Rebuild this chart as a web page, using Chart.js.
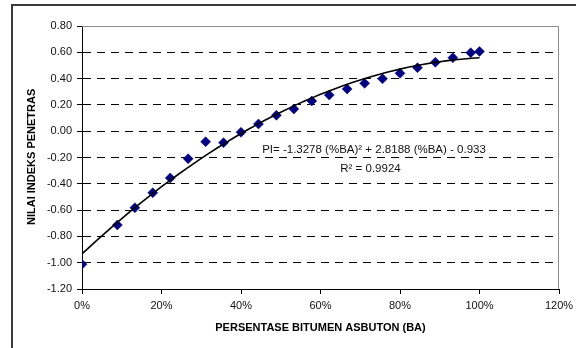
<!DOCTYPE html>
<html>
<head>
<meta charset="utf-8">
<title>Indeks Penetrasi vs Persentase Bitumen Asbuton</title>
<script src="https://cdn.jsdelivr.net/npm/chart.js@4"></script>
<style>
  html, body { margin: 0; padding: 0; background: #fff; }
  #wrap { width: 576px; height: 348px; }
</style>
</head>
<body>
<div id="wrap"><canvas id="c" width="576" height="348"></canvas></div>
<script>
// Bitumen asbuton content (fraction of binder) and measured penetration index
const baFraction = [0.000, 0.089, 0.133, 0.178, 0.222, 0.267, 0.311, 0.356, 0.400, 0.444, 0.489, 0.533,
                    0.578, 0.622, 0.667, 0.711, 0.756, 0.800, 0.844, 0.889, 0.933, 0.978, 1.000];
const piValues   = [-1.012, -0.713, -0.582, -0.468, -0.356, -0.209, -0.080, -0.087, -0.008, 0.055, 0.121, 0.169,
                    0.230, 0.275, 0.321, 0.364, 0.399, 0.440, 0.483, 0.524, 0.559, 0.597, 0.607];

// Second-order polynomial fit: PI = a*BA^2 + b*BA + c
const fitA = -1.3278, fitB = 2.8188, fitC = -0.933;
const fitR2 = 0.9924;
const fitSteps = [];
for (let i = 0; i <= 50; i++) fitSteps.push(i / 50);

// Axis ticks
const xTickValues = [0, 0.2, 0.4, 0.6, 0.8, 1.0, 1.2];
const xTickLabels = ['0%', '20%', '40%', '60%', '80%', '100%', '120%'];
const yTickValues = [-1.2, -1.0, -0.8, -0.6, -0.4, -0.2, 0.0, 0.2, 0.4, 0.6, 0.8];
const yTickLabels = ['-1.20', '-1.00', '-0.80', '-0.60', '-0.40', '-0.20', '0.00', '0.20', '0.40', '0.60', '0.80'];

const xTitle = 'PERSENTASE BITUMEN ASBUTON (BA)';
const yTitle = 'NILAI INDEKS PENETRASI';
const eqLine1 = 'PI= -1.3278 (%BA)\u00B2 + 2.8188 (%BA) - 0.933';
const eqLine2 = 'R\u00B2 = ' + fitR2;

const scatterPts = baFraction.map((x, i) => ({ x, y: piValues[i] }));
const fitPts = fitSteps.map(x => ({ x, y: fitA * x * x + fitB * x + fitC }));

const near = (a, b) => Math.abs(a - b) < 1e-6;

const decor = {
  id: 'decor',
  beforeDraw(chart) {
    const ctx = chart.ctx;
    ctx.save();
    ctx.fillStyle = '#ffffff';
    ctx.fillRect(0, 0, chart.width, chart.height);
    // outer frame (top and left edges)
    ctx.strokeStyle = '#3a3a3a';
    ctx.lineWidth = 2;
    ctx.beginPath();
    ctx.moveTo(12, chart.height);
    ctx.lineTo(12, 5);
    ctx.lineTo(chart.width, 5);
    ctx.stroke();
    ctx.restore();
  },
  beforeDatasetsDraw(chart) {
    const { ctx, chartArea: a } = chart;
    ctx.save();
    ctx.strokeStyle = '#8c8c8c';
    ctx.lineWidth = 1;
    ctx.beginPath();
    ctx.moveTo(a.left, a.top + 0.5);
    ctx.lineTo(a.right - 0.5, a.top + 0.5);
    ctx.lineTo(a.right - 0.5, a.bottom);
    ctx.stroke();
    ctx.restore();
  },
  afterDraw(chart) {
    const { ctx, chartArea: a } = chart;
    ctx.save();
    ctx.fillStyle = '#000';
    // axis titles
    ctx.font = 'bold 11px "Liberation Sans", Arial, sans-serif';
    ctx.textAlign = 'center';
    ctx.textBaseline = 'middle';
    ctx.fillText(xTitle, (a.left + a.right) / 2, 328);

    ctx.save();
    ctx.beginPath();
    ctx.rect(0, 89, 60, chart.height);
    ctx.clip();
    ctx.translate(31.5, 225);
    ctx.rotate(-Math.PI / 2);
    ctx.textAlign = 'left';
    ctx.fillText(yTitle, 0, 0);
    ctx.restore();

    // regression equation
    ctx.font = '11.5px "Liberation Sans", Arial, sans-serif';
    ctx.textAlign = 'center';
    ctx.fillStyle = '#111';
    ctx.fillText(eqLine1, 374, 150);
    ctx.fillText(eqLine2, 370.5, 168.5);
    ctx.restore();
  }
};

new Chart(document.getElementById('c'), {
  type: 'scatter',
  data: {
    datasets: [
      {
        type: 'line',
        label: 'Poly. fit',
        data: fitPts,
        borderColor: '#000',
        borderWidth: 1.6,
        pointRadius: 0,
        fill: false,
        tension: 0,
        order: 0
      },
      {
        label: 'PI',
        data: scatterPts,
        pointStyle: 'rectRot',
        pointRadius: 5,
        pointBackgroundColor: '#000080',
        pointBorderColor: '#000080',
        pointBorderWidth: 0.5,
        order: 1
      }
    ]
  },
  options: {
    responsive: false,
    animation: false,
    devicePixelRatio: 1,
    layout: { padding: { left: 0, top: 26, right: 17, bottom: 0 } },
    plugins: { legend: { display: false }, tooltip: { enabled: false } },
    scales: {
      x: {
        type: 'linear',
        min: 0,
        max: 1.2,
        afterBuildTicks(scale) { scale.ticks = xTickValues.map(v => ({ value: v })); },
        afterFit(scale) { scale.height = 59; scale.paddingLeft = 0; scale.paddingRight = 0; },
        ticks: {
          padding: 5,
          color: '#111',
          font: { family: '"Liberation Sans", Arial, sans-serif', size: 11 },
          maxRotation: 0,
          callback: (v) => {
            const i = xTickValues.findIndex(t => near(t, v));
            return i >= 0 ? xTickLabels[i] : '';
          }
        },
        grid: {
          drawOnChartArea: false,
          drawTicks: true,
          tickLength: 5,
          tickColor: '#000',
          tickWidth: 1
        },
        border: { display: true, color: '#000', width: 1 }
      },
      y: {
        type: 'linear',
        min: -1.2,
        max: 0.8,
        afterBuildTicks(scale) { scale.ticks = yTickValues.map(v => ({ value: v })); },
        afterFit(scale) { scale.width = 82; scale.paddingTop = 0; scale.paddingBottom = 0; },
        ticks: {
          padding: 5,
          color: '#111',
          font: { family: '"Liberation Sans", Arial, sans-serif', size: 11 },
          callback: (v) => {
            const i = yTickValues.findIndex(t => near(t, v));
            return i >= 0 ? yTickLabels[i] : '';
          }
        },
        grid: {
          drawOnChartArea: true,
          color: (ctx) => {
            const v = ctx.tick ? ctx.tick.value : null;
            if (v === null || near(v, 0.8) || near(v, -1.2)) return 'rgba(0,0,0,0)';
            return '#000';
          },
          lineWidth: 1,
          drawTicks: true,
          tickLength: 5,
          tickColor: '#000',
          tickWidth: 1
        },
        border: { display: true, color: '#000', width: 1, dash: [8, 6] }
      }
    }
  },
  plugins: [decor]
});
</script>
</body>
</html>
